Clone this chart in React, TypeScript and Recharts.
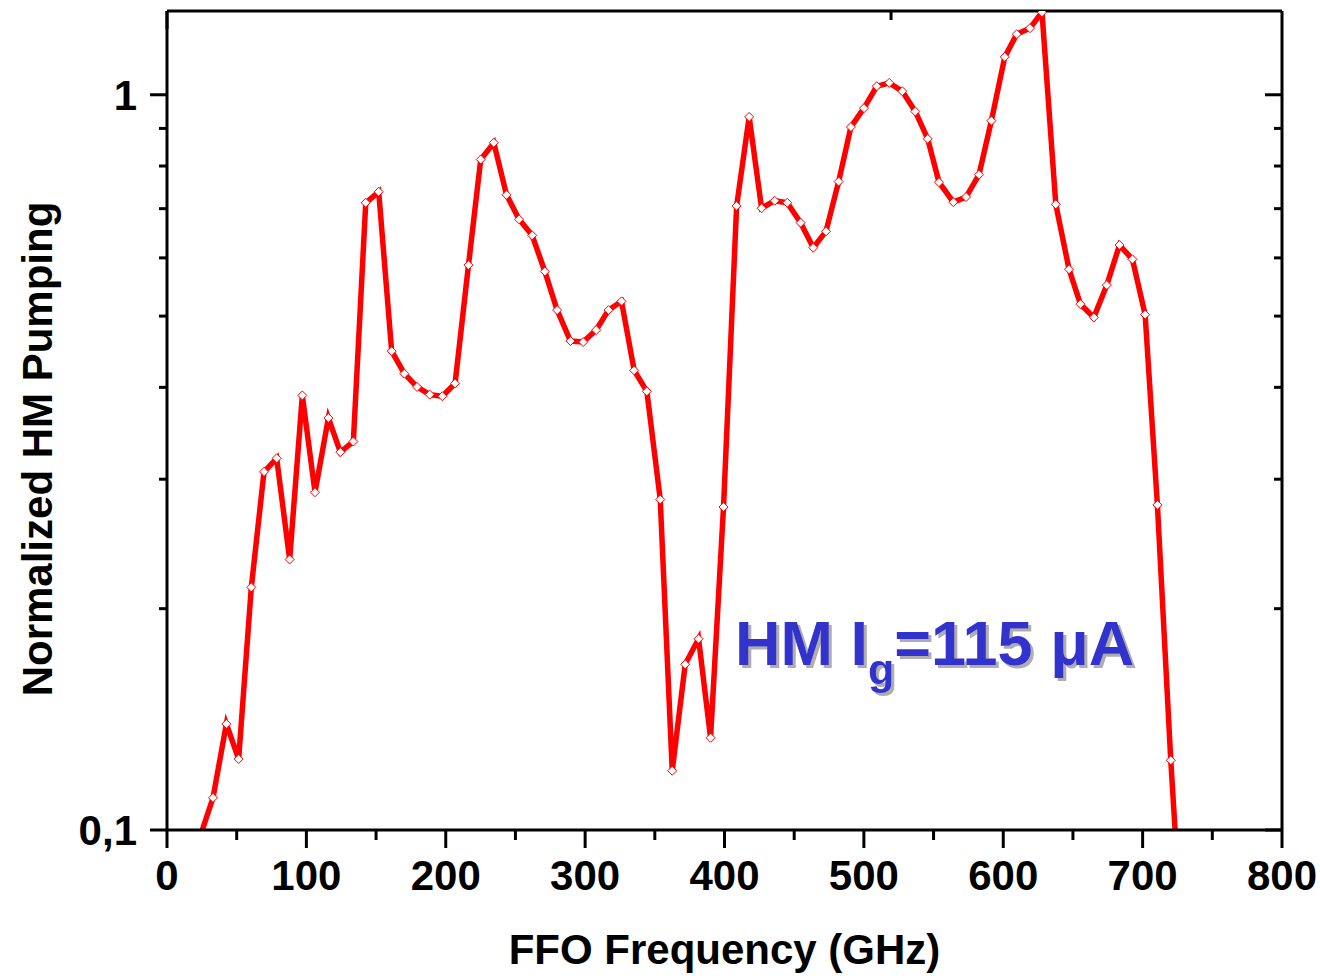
import React from "react";
import {
  LineChart,
  Line,
  XAxis,
  YAxis,
  ReferenceDot,
} from "recharts";

// FFO frequency (GHz) of each measured point
const freqs = [
  23.8, 33.0, 42.6, 51.4, 60.5, 69.6, 78.7, 88.0, 97.1, 106.2,
  115.8, 124.4, 133.7, 142.6, 151.9, 161.2, 170.3, 179.4, 188.5, 197.6,
  206.7, 216.3, 225.1, 234.5, 243.6, 252.6, 262.0, 271.1, 279.9, 289.5,
  298.6, 307.9, 316.8, 326.1, 335.2, 344.3, 353.9, 362.5, 371.8, 381.4,
  390.0, 399.3, 408.7, 417.7, 426.6, 436.0, 445.0, 454.6, 463.7, 472.8,
  481.9, 490.7, 500.1, 509.2, 518.2, 527.6, 536.9, 545.8, 553.9, 564.2,
  573.3, 582.6, 591.5, 601.1, 609.7, 619.2, 627.8, 637.7, 647.2, 655.4,
  665.0, 674.3, 683.4, 692.7, 701.8, 710.6, 720.2, 729.4,
];

// normalized HM pumping at those frequencies
const pumping = [
  0.098, 0.1106, 0.1394, 0.1249, 0.2138, 0.307, 0.3203, 0.2333, 0.39, 0.288,
  0.3634, 0.3265, 0.3376, 0.713, 0.738, 0.448, 0.4175, 0.4005, 0.391, 0.389,
  0.405, 0.5866, 0.8166, 0.8604, 0.731, 0.677, 0.644, 0.575, 0.5095, 0.4624,
  0.461, 0.4786, 0.5095, 0.5237, 0.4218, 0.395, 0.2815, 0.1204, 0.168, 0.182,
  0.1335, 0.275, 0.706, 0.933, 0.701, 0.7176, 0.713, 0.67, 0.6195, 0.652,
  0.762, 0.904, 0.959, 1.027, 1.038, 1.011, 0.949, 0.871, 0.7605, 0.7145,
  0.726, 0.7785, 0.922, 1.126, 1.209, 1.232, 1.295, 0.7096, 0.579, 0.519,
  0.498, 0.551, 0.6246, 0.5973, 0.5023, 0.2768, 0.1244, 0.065,
];

const xTicks = [0, 50, 100, 150, 200, 250, 300, 350, 400, 450, 500, 550, 600, 650, 700, 750, 800];
const yTicks = [0.1, 0.2, 0.3, 0.4, 0.5, 0.6, 0.7, 0.8, 0.9, 1];
const yLabels: Record<string, string> = { "0.1": "0,1", "1": "1" };

const data = freqs.map((f, i) => ({ f, v: pumping[i] }));

const FONT = "'Liberation Sans', Arial, Helvetica, sans-serif";

const isMajorX = (v: number) => v % 100 === 0;
const isMajorY = (v: number) => yLabels[String(v)] !== undefined;

function BottomTick({ x, y, payload }: any) {
  const major = isMajorX(payload.value);
  return (
    <g>
      <line x1={x} y1={y} x2={x} y2={y + (major ? 18 : 10)} stroke="#000" strokeWidth={3} />
      {major && (
        <text x={x} y={y + 30} dy="0.71em" textAnchor="middle" fontFamily={FONT}
          fontWeight="bold" fontSize={42} fill="#000">
          {payload.value}
        </text>
      )}
    </g>
  );
}

function TopTick({ x, y, payload }: any) {
  const major = isMajorX(payload.value);
  return <line x1={x} y1={y} x2={x} y2={y + (major ? 18 : 9)} stroke="#000" strokeWidth={3} />;
}

function LeftTick({ x, y, payload }: any) {
  const major = isMajorY(payload.value);
  return (
    <g>
      <line x1={x} y1={y} x2={x - (major ? 17 : 8)} y2={y} stroke="#000" strokeWidth={3} />
      {major && (
        <text x={x - 30} y={y} dy="0.355em" textAnchor="end" fontFamily={FONT}
          fontWeight="bold" fontSize={42} fill="#000">
          {yLabels[String(payload.value)]}
        </text>
      )}
    </g>
  );
}

function RightTick({ x, y, payload }: any) {
  const major = isMajorY(payload.value);
  return <line x1={x} y1={y} x2={x - (major ? 17 : 8)} y2={y} stroke="#000" strokeWidth={3} />;
}

function Diamond(props: any) {
  const { cx, cy, index } = props;
  if (cx == null || cy == null) return <g key={`d-${index}`} />;
  const r = 4.5;
  return (
    <path
      key={`d-${index}`}
      d={`M${cx},${cy - r}L${cx + r},${cy}L${cx},${cy + r}L${cx - r},${cy}Z`}
      fill="#fff"
      stroke="#ff0000"
      strokeWidth={1}
    />
  );
}

function Annotation({ viewBox }: any) {
  return (
    <g>
      <defs>
        <filter id="hmShadow" x="-5%" y="-20%" width="110%" height="150%">
          <feDropShadow dx={3} dy={3} stdDeviation={0.6} floodColor="#9a9a9a" floodOpacity={0.8} />
        </filter>
      </defs>
      <text x={viewBox.x} y={viewBox.y} fontFamily={FONT} fontWeight="bold" fontSize={63}
        fill="#3333cc" filter="url(#hmShadow)">
        <tspan>HM I</tspan>
        <tspan fontSize={43} dy={19}>g</tspan>
        <tspan dy={-19}>=115 μA</tspan>
      </text>
    </g>
  );
}

export default function App() {
  return (
    <div style={{ width: 1320, height: 976, background: "#fff" }}>
      <style>{"body{margin:0}"}</style>
      <LineChart
        width={1320}
        height={976}
        data={data}
        margin={{ top: 11, right: 38, left: 0, bottom: 0 }}
      >
        <XAxis
          xAxisId="b"
          dataKey="f"
          type="number"
          domain={[0, 800]}
          ticks={xTicks}
          interval={0}
          allowDataOverflow
          height={146}
          tickSize={0}
          tickMargin={0}
          tickLine={false}
          tick={<BottomTick />}
          axisLine={{ stroke: "#000", strokeWidth: 3 }}
          label={{
            content: ({ viewBox }: any) => (
              <text x={viewBox.x + viewBox.width / 2} y={964} textAnchor="middle"
                fontFamily={FONT} fontWeight="bold" fontSize={42} fill="#000">
                FFO Frequency (GHz)
              </text>
            ),
          }}
        />
        <XAxis
          xAxisId="t"
          orientation="top"
          mirror
          type="number"
          domain={[0, 800]}
          ticks={xTicks}
          interval={0}
          allowDataOverflow
          tickSize={0}
          tickMargin={0}
          tickLine={false}
          tick={<TopTick />}
          axisLine={{ stroke: "#000", strokeWidth: 3 }}
        />
        <YAxis
          yAxisId="l"
          scale="log"
          type="number"
          domain={[0.1, 1.3]}
          ticks={yTicks}
          interval={0}
          allowDataOverflow
          width={167}
          tickSize={0}
          tickMargin={0}
          tickLine={false}
          tick={<LeftTick />}
          axisLine={{ stroke: "#000", strokeWidth: 3 }}
          label={{
            content: () => (
              <text x={52} y={449} transform="rotate(-90, 52, 449)" textAnchor="middle"
                fontFamily={FONT} fontWeight="bold" fontSize={42} fill="#000">
                Normalized HM Pumping
              </text>
            ),
          }}
        />
        <YAxis
          yAxisId="r"
          orientation="right"
          mirror
          scale="log"
          type="number"
          domain={[0.1, 1.3]}
          ticks={yTicks}
          interval={0}
          allowDataOverflow
          tickSize={0}
          tickMargin={0}
          tickLine={false}
          tick={<RightTick />}
          axisLine={{ stroke: "#000", strokeWidth: 3 }}
        />
        <Line
          xAxisId="b"
          yAxisId="l"
          dataKey="v"
          type="linear"
          stroke="#ff0000"
          strokeWidth={5.5}
          dot={Diamond}
          activeDot={false}
          isAnimationActive={false}
        />
        <ReferenceDot
          xAxisId="b"
          yAxisId="l"
          x={407.5}
          y={0.1676}
          r={0}
          fill="none"
          stroke="none"
          label={{ content: Annotation }}
        />
      </LineChart>
    </div>
  );
}
